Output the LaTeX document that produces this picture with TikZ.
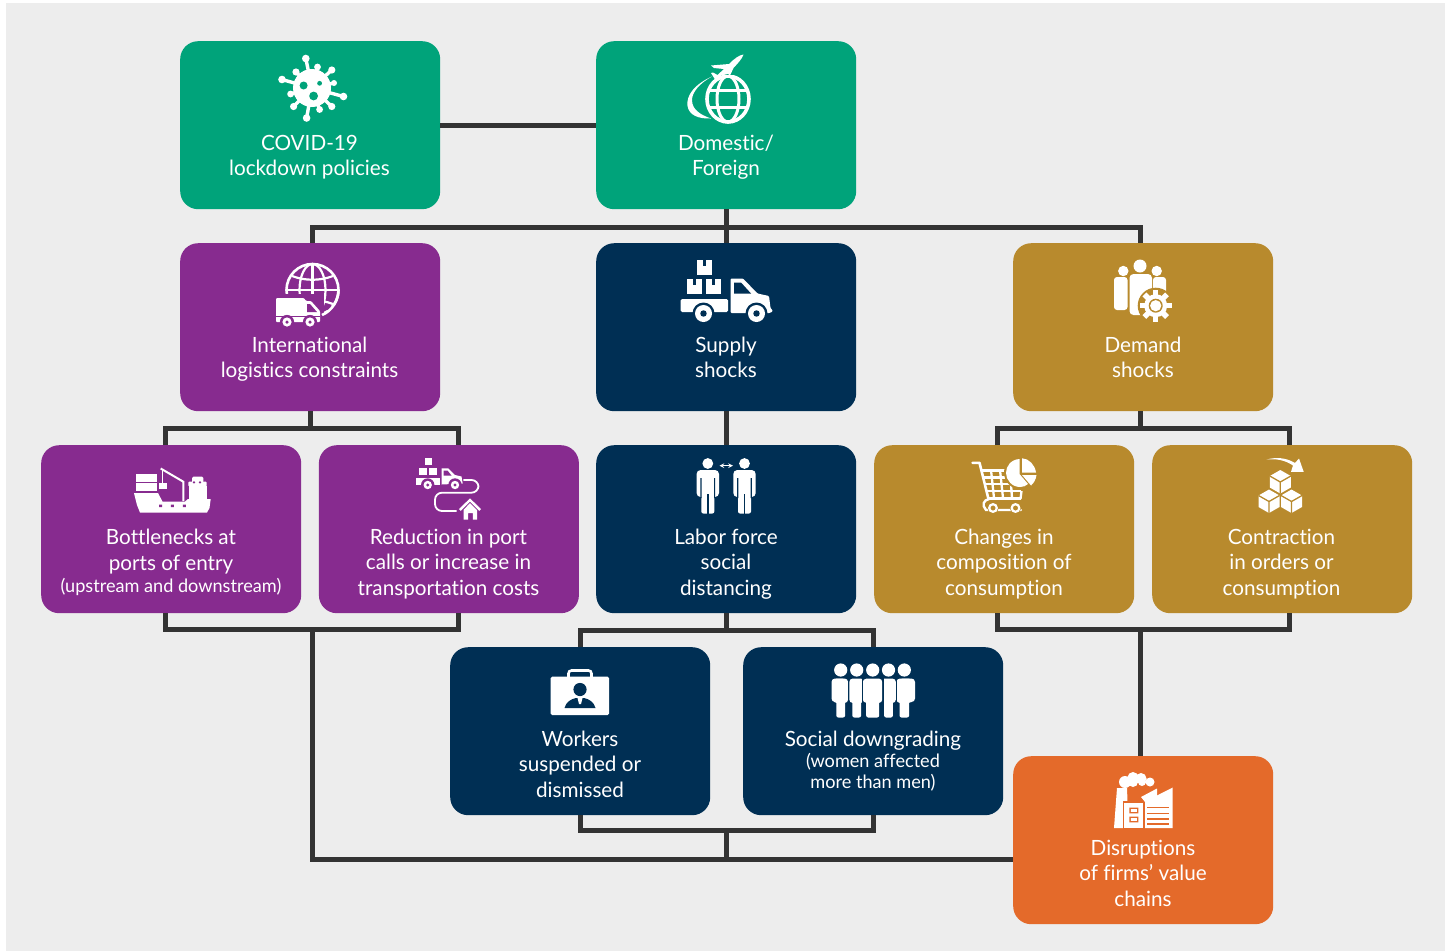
\documentclass[tikz,border=0pt]{standalone}
\usepackage{fontspec}
\setmainfont{Lato}[Ligatures=CommonOff,FakeStretch=0.985]
\definecolor{bggrey}{HTML}{EDEDED}
\definecolor{cgreen}{HTML}{00A37A}
\definecolor{cpurple}{HTML}{872B8F}
\definecolor{cnavy}{HTML}{002F54}
\definecolor{cgold}{HTML}{B88A2D}
\definecolor{corange}{HTML}{E46A2A}
\definecolor{cline}{HTML}{333333}
\newcommand{\bigtxt}{\fontsize{21}{25.4}\selectfont}
\newcommand{\smalltxt}{\fontsize{18.4}{21}\selectfont}
\newcommand{\htstrut}{\rule[-5pt]{0pt}{20pt}}
\tikzset{
  card/.style={draw=none,rounded corners=18pt,minimum width=260pt,minimum height=168pt,inner sep=0pt,anchor=north west},
  captxt/.style={text=white,align=center,anchor=center,inner sep=0pt,font=\bigtxt,execute at begin node=\htstrut,execute at end node=\htstrut},
  conn/.style={draw=cline,line width=5pt,line cap=butt,line join=miter}
}
\newcommand{\spk}[3]{\draw[white,line width=3.4pt] (312,88) -- (#1,#2); \fill[white] (#1,#2) circle (#3);}
\newcommand{\wheelcut}[4]{\fill[#4] (#1,#2) circle (#3+2.5); \fill[white] (#1,#2) circle (#3); \fill[#4] (#1,#2) circle (#3*0.38);}
\newcommand{\cube}[3]{%
  \fill[white] (#1,#2-11.5) -- (#1+10.5,#2-5.5) -- (#1+10.5,#2+6) -- (#1,#2+12) -- (#1-10.5,#2+6) -- (#1-10.5,#2-5.5) -- cycle;
  \draw[#3,line width=1.3pt] (#1-10.5,#2-5.5) -- (#1,#2+0.5) -- (#1+10.5,#2-5.5) (#1,#2+0.5) -- (#1,#2+12);}
\newcommand{\standing}[1]{%
  \fill[white] (#1,463.5) circle (5.4);
  \fill[white,rounded corners=4pt] (#1-11.2,470) rectangle (#1+11.2,497);
  \fill[white,rounded corners=2pt] (#1-6.5,490) rectangle (#1+6.5,513.5);
  \fill[cnavy] (#1-7.4,478) rectangle (#1-6.2,498) (#1+6.2,478) rectangle (#1+7.4,498);
  \fill[cnavy] (#1-11.5,497) rectangle (#1-7,499) (#1+7,497) rectangle (#1+11.5,499);
  \fill[cnavy] (#1-0.7,494) rectangle (#1+0.7,514);}
\newcommand{\grouper}[2]{%
  \fill[white] (#1,670) circle (6.6);
  \fill[white,rounded corners=3.5pt] (#1-#2,678.5) rectangle (#1+#2,703);
  \fill[white,rounded corners=2pt] (#1-#2+3,695) rectangle (#1+#2-3,717.5);}
\begin{document}
\begin{tikzpicture}[x=1pt,y=-1pt]
\useasboundingbox (0,0) rectangle (1449,951);
\fill[white] (0,0) rectangle (1449,951);
\fill[bggrey] (6,3) rectangle (1445,951);

% ---- cards
\node[card,fill=cgreen] (covid) at (180,41) {};
\node[card,fill=cgreen] (dom) at (596,41) {};
\node[card,fill=cpurple] (intl) at (180,243) {};
\node[card,fill=cnavy] (supply) at (596,243) {};
\node[card,fill=cgold] (demand) at (1013,243) {};
\node[card,fill=cpurple] (bott) at (41,445) {};
\node[card,fill=cpurple] (redu) at (318.7,445) {};
\node[card,fill=cnavy] (labor) at (596,445) {};
\node[card,fill=cgold] (chang) at (874,445) {};
\node[card,fill=cgold] (contr) at (1152,445) {};
\node[card,fill=cnavy] (work) at (450,647) {};
\node[card,fill=cnavy] (social) at (743,647) {};
\node[card,fill=corange] (disr) at (1013,756) {};

% ---- connector junctions
\coordinate (topL) at (312,227);
\coordinate (topR) at (1140,227);
\coordinate (intlL) at (165,428);
\coordinate (intlR) at (458,428);
\coordinate (demL) at (997,428);
\coordinate (demR) at (1289,428);
\coordinate (leftL) at (165,629);
\coordinate (leftR) at (458,629);
\coordinate (leftM) at (312,629);
\coordinate (rightL) at (997,629);
\coordinate (rightR) at (1289,629);
\coordinate (rightM) at (1140,629);
\coordinate (midL) at (580,630);
\coordinate (midR) at (873,630);
\coordinate (lowL) at (580,830);
\coordinate (lowR) at (873,830);
\coordinate (lowM) at (726,830);
\coordinate (baseL) at (312,859);
\coordinate (baseM) at (726,859);

% ---- connectors
\draw[conn] (covid.east) -- (dom.west);
\draw[conn] (dom.south) -- (supply.north);
\draw[conn] (intl.north -| topL) -- (topL) -- (topR) -- (demand.north -| topR);
\draw[conn] (intl.south) -- (intl.south |- intlL);
\draw[conn] (bott.north -| intlL) -- (intlL) -- (intlR) -- (redu.north -| intlR);
\draw[conn] (supply.south) -- (labor.north);
\draw[conn] (demand.south -| topR) -- (topR |- demL);
\draw[conn] (chang.north -| demL) -- (demL) -- (demR) -- (contr.north -| demR);
\draw[conn] (bott.south -| leftL) -- (leftL) -- (leftR) -- (redu.south -| leftR);
\draw[conn] (chang.south -| rightL) -- (rightL) -- (rightR) -- (contr.south -| rightR);
\draw[conn] (labor.south) -- (labor.south |- midL);
\draw[conn] (work.north -| midL) -- (midL) -- (midR) -- (social.north -| midR);
\draw[conn] (work.south -| lowL) -- (lowL) -- (lowR) -- (social.south -| lowR);
\draw[conn] (lowM) -- (baseM);
\draw[conn] (leftM) -- (baseL) -- (baseL -| disr.west);
\draw[conn] (rightM) -- (rightM |- disr.north);

% ---- labels
\node[captxt] (lcovid) at (309.5,158) {COVID-19\\lockdown policies};
\node[captxt] (ldom) at (726,158) {Domestic/\\Foreign};
\node[captxt] (lintl) at (309.5,360) {International\\logistics constraints};
\node[captxt] (lsupply) at (726,360) {Supply\\shocks};
\node[captxt] (ldemand) at (1143,360) {Demand\\shocks};
\node[captxt] (lbott) at (171,563.5) {Bottlenecks at\\ports of entry\\[-3pt]{\smalltxt (upstream and downstream)}};
\node[captxt] (lredu) at (448.5,564.5) {Reduction in port\\calls or increase in\\transportation costs};
\node[captxt] (llabor) at (726,564.5) {Labor force\\social\\distancing};
\node[captxt] (lchang) at (1004,564.5) {Changes in\\composition of\\consumption};
\node[captxt] (lcontr) at (1281.5,564.5) {Contraction\\in orders or\\consumption};
\node[captxt] (lwork) at (580,766.5) {Workers\\suspended or\\dismissed};
\node[captxt] (lsocial) at (873,741) {Social downgrading};
\node[captxt,font=\smalltxt] (lsocial2) at (873,773) {(women affected\\more than men)};
\node[captxt] (ldisr) at (1143,875.5) {Disruptions\\of firms’ value\\chains};

% ---- icon: virus
\fill[white] (312,88) circle (19);
\spk{305.8}{58.5}{3.8}\spk{317.5}{67}{3.4}\spk{331.8}{70}{3.6}\spk{334}{83}{3}
\spk{343.5}{96.5}{3.8}\spk{331.8}{106.5}{3.6}\spk{319.6}{109.5}{3.4}\spk{306.6}{118}{3.8}
\spk{293.6}{106.5}{3.6}\spk{290.6}{94}{3.4}\spk{282}{79.5}{3.8}\spk{296}{72}{3.6}
\fill[cgreen] (303.6,85.5) circle (4);
\fill[cgreen] (319.6,83.3) circle (2.4);
\fill[cgreen] (313.6,96) circle (4.4);

% ---- icon: globe + plane
\draw[white,line width=3.6pt] (728,99) ellipse (21 and 23);
\draw[white,line width=3pt] (728,99) ellipse (11 and 23);
\draw[white,line width=3pt] (708,90.5) -- (748,90.5) (708,107.5) -- (748,107.5);
\fill[white] (712,76.5) .. controls (695,84) and (686,95) .. (687.5,106) .. controls (689,115) and (698,119) .. (711,118.5) .. controls (701,115) and (692,110) .. (692,100) .. controls (692,92) and (700,83) .. (712,76.5) -- cycle;
\fill[cgreen] (709,66) -- (734,66) -- (734,75.3) -- (709,75.3) -- cycle;
\fill[white] (743.5,54.5) .. controls (739,55) and (734,59) .. (729,64) -- (711,65.5) -- (714,68) -- (724,69) -- (717.5,75) -- (713,72.5) -- (711,73) -- (716,81) -- (721,75.5) -- (728,74) -- (730,75.5) -- (733.5,68) .. controls (738,63) and (742,59) .. (743.5,54.5) -- cycle;

% ---- icon: logistics
\draw[white,line width=2.6pt] (312.5,290) circle (26);
\draw[white,line width=2.2pt] (312.5,290) ellipse (13 and 26);
\draw[white,line width=2.2pt] (312.5,264) -- (312.5,316);
\draw[white,line width=2.2pt] (286.5,290) -- (338.5,290);
\draw[white,line width=2.2pt] (292,276) .. controls (305,281) and (320,281) .. (333,276);
\draw[white,line width=2.2pt] (292,304) .. controls (305,299) and (320,299) .. (333,304);
\fill[cpurple] (272,294) rectangle (324,326);
\fill[cpurple] (322,306) rectangle (342,310);
\draw[white,line width=2.6pt] (338.5,290) .. controls (338.5,300) and (332,311) .. (322,315);
\fill[white,rounded corners=1pt] (276,298) -- (304,298) -- (306,301) -- (311,301) -- (320,311) -- (320,322) -- (276,322) -- cycle;
\fill[cpurple] (307,304) -- (310,304) -- (317,312) -- (307,312) -- cycle;
\fill[cpurple] (276,316) rectangle (320,317);
\wheelcut{287}{322}{4.6}{cpurple}
\wheelcut{310}{322}{4.6}{cpurple}

% ---- icon: supply truck
\fill[white] (697,260) rectangle (711.5,275);
\fill[white] (687,279) rectangle (702,294);
\fill[white] (706,279) rectangle (721,294);
\fill[cnavy] (702.7,260) rectangle (705.7,266);
\fill[cnavy] (692.7,279) rectangle (695.7,285);
\fill[cnavy] (711.7,279) rectangle (714.7,285);
\fill[white,rounded corners=1.5pt] (680.5,299) rectangle (728,312);
\fill[white,rounded corners=1pt] (730.5,278.5) -- (743,278.5) -- (757.5,293.5) -- (769,296) -- (770.5,308) -- (773,311) -- (770,313) -- (730.5,313) -- cycle;
\fill[cnavy] (734,282.5) -- (741,282.5) -- (751,293.5) -- (734,293.5) -- cycle;
\wheelcut{703.5}{313.5}{8.5}{cnavy}
\wheelcut{756.5}{313.5}{8.5}{cnavy}

% ---- icon: demand group + gear
\fill[white] (1140,266) circle (6.5);
\fill[white] (1123.3,271) circle (5.2);
\fill[white] (1156.7,271) circle (5.2);
\fill[white,rounded corners=3pt] (1114,277) rectangle (1127.5,310);
\fill[white,rounded corners=3pt] (1153,277) rectangle (1166,297);
\fill[cgold] (1127.5,274) rectangle (1129.5,312);
\fill[white,rounded corners=4pt] (1129.5,274) rectangle (1152,315);
\fill[cgold] (1155.7,305.7) circle (18);
\foreach \a in {0,45,...,315}{
  \fill[white,rotate around={\a:(1155.7,305.7)}] (1153,289.7) rectangle (1158.4,297);
}
\fill[white] (1155.7,305.7) circle (11.5);
\fill[cgold] (1155.7,305.7) circle (7);
\fill[white] (1155.7,305.7) circle (5.6);

% ---- icon: ship
\fill[white] (135.7,474) rectangle (156.7,481.7);
\fill[white] (135.7,483.3) rectangle (156.7,491);
\fill[white] (134,493) -- (158,493) -- (162.5,501.5) -- (185,501.5) -- (188,499) -- (210.7,499) -- (209.5,508) -- (207,512.5) -- (140,512.5) -- (137,505) -- cycle;
\draw[white,line width=2pt] (160.7,468.5) -- (183.3,481.7) -- (183.3,501);
\draw[white,line width=1pt] (162.7,470) -- (162.7,484);
\fill[white] (159.3,483.3) rectangle (166.7,488.7);
\fill[white] (188.5,499.5) -- (188.5,486) -- (206.5,486) -- (206.5,499.5) -- cycle;
\fill[white,rounded corners=1.5pt] (192,476.5) rectangle (203.3,483);
\fill[white,rounded corners=1pt] (188.3,481.5) rectangle (206.7,486.5);
\fill[cpurple] (194,482.3) circle (1.3) (200,482.3) circle (1.3);
\fill[cpurple] (159.2,504.5) rectangle (162.2,507) (170.8,504.5) rectangle (173.8,507) (182.8,504.5) rectangle (185.8,507);

% ---- icon: route truck
\fill[white] (425,458.3) rectangle (431.7,465);
\fill[white] (419.3,468.3) rectangle (426.7,475);
\fill[white] (429,468.3) rectangle (436.7,475);
\fill[white] (416,478) rectangle (440,484.5);
\fill[white] (441.7,468.3) -- (448.3,468.3) -- (455,475) -- (461.5,476.5) -- (462.7,483.5) -- (441.7,484.5) -- cycle;
\fill[cpurple] (443.5,470.5) -- (447.5,470.5) -- (451.5,475.5) -- (443.5,475.5) -- cycle;
\wheelcut{427.7}{485}{4.2}{cpurple}
\wheelcut{455}{485}{4.2}{cpurple}
\draw[white,line width=1.8pt,rounded corners=7pt] (463.3,480) -- (478.5,480) -- (478.5,492.7) -- (435,492.7) -- (435,511) -- (456.7,511);
\draw[white,line width=2.4pt] (459.8,510) -- (470,500) -- (480.2,510);
\fill[white] (470,503) -- (477,510) -- (477,519.5) -- (472.8,519.5) -- (472.8,513) -- (468,513) -- (468,519.5) -- (463.5,519.5) -- (463.5,510) -- cycle;

% ---- icon: distancing
\standing{707.8}
\standing{744.5}
\draw[white,line width=1.1pt,stealth-stealth] (719.5,465.7) -- (733,465.7);

% ---- icon: cart + pie
\draw[white,line width=2.6pt,line join=round,line cap=round] (972.5,462.8) -- (979.5,462.8) -- (988.5,499);
\draw[white,line width=2.3pt] (981,470.5) -- (1006,470.5) (983,477.5) -- (1008,477.5) (985,484) -- (1016,484) (987,491) -- (1021,491) (988.5,498.5) -- (1021,498.5);
\draw[white,line width=2.3pt] (991,470) -- (994,498) (1000,470) -- (1003,498) (1011,484) -- (1012,498) (1021.5,491) -- (1020.5,499);
\draw[white,line width=2.4pt,line cap=round] (989,499) .. controls (983.5,500) and (981.5,505) .. (986,510) -- (1021,510);
\fill[cgold] (1021,472.5) circle (17);
\fill[white] (1019.5,459) .. controls (1011,459.5) and (1006,466) .. (1006,473) .. controls (1006,480) and (1012,487) .. (1020,487) .. controls (1023,487) and (1026,486) .. (1028,484) -- (1019.5,474) -- cycle;
\fill[white] (1022,458.3) .. controls (1029,458.5) and (1035,465) .. (1036,472.5) -- (1022,472.5) -- cycle;
\fill[white] (1022,475) -- (1036.5,475) .. controls (1036,479) and (1034,483) .. (1031,485.5) -- cycle;
\fill[cgold] (993,508.5) circle (5.5) (1015.5,508.5) circle (5.5);
\draw[white,line width=2.2pt] (993,508) circle (3.8);
\draw[white,line width=2.2pt] (1015.5,508) circle (3.8);

% ---- icon: boxes + arrow
\cube{1280.3}{481.5}{cgold}
\cube{1269}{501}{cgold}
\cube{1291.5}{501}{cgold}
\fill[white] (1266.5,459.5) .. controls (1276,458.5) and (1285,460) .. (1293,465.5) -- (1291,471.8) -- (1303.7,471.8) -- (1299,458.5) -- (1295,463) .. controls (1286,457.5) and (1276,457) .. (1266.5,459.5) -- cycle;

% ---- icon: briefcase
\draw[white,line width=2.6pt,rounded corners=3pt] (568.5,677) -- (568.5,670.5) -- (591.5,670.5) -- (591.5,677);
\fill[white,rounded corners=1.5pt] (550.7,676.7) rectangle (609,715);
\fill[cnavy] (580,689.5) circle (6.6);
\fill[cnavy] (564.5,708) .. controls (566,702) and (571,699) .. (576,698) -- (584,698) .. controls (589,699) and (594,702) .. (595.5,708) -- cycle;
\fill[white] (577.5,698) -- (582.5,698) -- (581,704) -- (579,704) -- cycle;

% ---- icon: group of five
\fill[white,rounded corners=3.5pt] (831.5,678.5) rectangle (846,702);
\fill[white,rounded corners=3.5pt] (899,678.5) rectangle (915,702);
\grouper{840.7}{7.4}
\grouper{904.3}{7.8}
\fill[cnavy] (848.2,676) rectangle (849.8,718);
\fill[cnavy] (895.2,676) rectangle (896.8,718);
\grouper{856.7}{7.4}
\grouper{888.5}{7.4}
\fill[cnavy] (861.5,676) rectangle (863,718);
\fill[cnavy] (882.3,676) rectangle (883.8,718);
\grouper{872.7}{9.5}

% ---- icon: factory
\fill[white] (1125,782) circle (6) (1133,777.5) circle (5.5) (1141,778.5) circle (5.5) (1150,782) circle (4.5) (1133,782) circle (5) (1142,782) circle (4);
\fill[white] (1117,788) -- (1127,788) -- (1128.5,828) -- (1114,828) -- cycle;
\fill[corange] (1122.5,801) rectangle (1144.5,829);
\fill[white] (1124,802.5) rectangle (1143,828);
\fill[corange] (1129.3,807.7) rectangle (1138.3,813.3) (1129.3,816.7) rectangle (1138.3,822.3);
\fill[white] (1130.8,809.2) rectangle (1136.8,811.8) (1130.8,818.2) rectangle (1136.8,820.8);
\fill[white] (1141,797) -- (1157,788.5) -- (1157,795.5) -- (1172.7,787.5) -- (1172.7,828) -- (1145,828) -- (1145,802) -- cycle;
\draw[corange,line width=1.2pt] (1147,807.7) -- (1168.5,807.7) (1147,813.5) -- (1168.5,813.5) (1147,819) -- (1168.5,819) (1147,824) -- (1168.5,824);
\end{tikzpicture}
\end{document}
